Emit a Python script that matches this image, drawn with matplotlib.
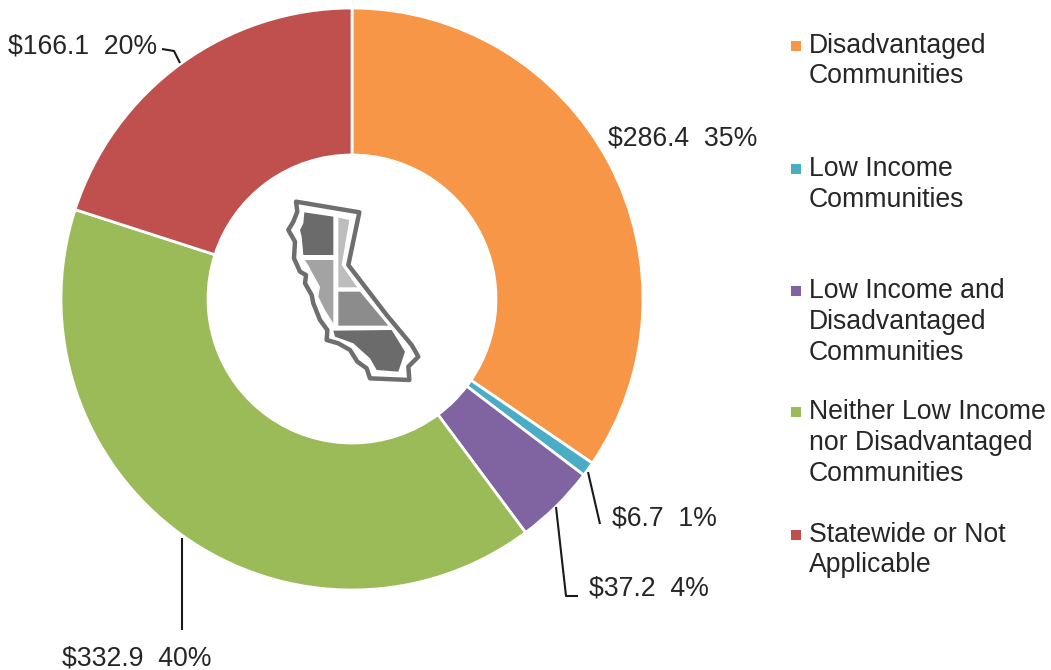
import matplotlib.pyplot as plt
from matplotlib.patches import Polygon

plt.rcParams['font.family'] = ['Liberation Sans', 'DejaVu Sans']

categories = ["Disadvantaged\nCommunities", "Low Income\nCommunities", "Low Income and\nDisadvantaged\nCommunities",
	"Neither Low Income\nnor Disadvantaged\nCommunities", "Statewide or Not\nApplicable"]
values = [286.4, 6.7, 37.2, 332.9, 166.1]
percents = [35, 1, 4, 40, 20]
colors = ['#F79646', '#4BACC6', '#8064A2', '#9BBB59', '#C0504D']

# everything below is placed in image pixels (y flipped by hand)
H = 670
label_pos = [(608, 139), (612, 519), (589, 589), (62, 658), (8, 46)]
leaders = [None, [(588, 472), (600, 524)], [(556, 507), (566, 596), (578, 596)],
	[(182, 538), (182, 630)], [(180, 63), (174, 51), (162, 49)]]
legend_y = [61, 184.5, 322, 443, 550]
text_color = '#262626'

outline = [(78, 65), (268, 97), (235, 255), (350, 405), (425, 495), (445, 530), (415, 560), (418, 600), (300, 595),
	(290, 565), (262, 545), (240, 510), (205, 490), (170, 480), (172, 450), (150, 420), (130, 370), (125, 345),
	(105, 310), (108, 285), (90, 275), (72, 235), (75, 185), (55, 150), (70, 125), (82, 95)]
regions = [
	([(103, 97), (190, 110), (190, 225), (100, 225), (95, 170), (90, 150), (100, 130)], '#6b6b6b'),
	([(205, 113), (238, 120), (215, 255), (262, 322), (205, 322)], '#bdbdbd'),
	([(105, 240), (190, 240), (190, 430), (165, 390), (145, 350), (150, 320), (125, 275), (120, 265)], '#a3a3a3'),
	([(205, 335), (270, 335), (355, 437), (205, 437)], '#8c8c8c'),
	([(190, 452), (365, 450), (405, 515), (385, 575), (320, 570), (300, 535), (250, 490), (195, 470)], '#6b6b6b'),
]


def icon_xy(points):
	return [(270 + x / 3, H - (180 + y / 3)) for x, y in points]


fig = plt.figure(figsize=(10.51, 6.70), dpi=100)
ax = fig.add_axes([0, 0, 1, 1])

ax.pie(values, colors=colors, center=(352, H - 299), radius=291, startangle=90, counterclock=False,
	wedgeprops={'width': 147, 'edgecolor': 'white', 'linewidth': 2}, frame=True)
ax.set_xlim(0, 1051)
ax.set_ylim(0, H)
ax.set_aspect('equal')
ax.axis('off')

for val, pct, (x, y), line in zip(values, percents, label_pos, leaders):
	ax.text(x, H - y, f"${val}  {pct}%", fontsize=19.2, color=text_color, va='center', ha='left')
	if line:
		ax.plot([p[0] for p in line], [H - p[1] for p in line], color='#1a1a1a', lw=1.5, solid_capstyle='butt')

for cat, col, y in zip(categories, colors, legend_y):
	n = cat.count("\n") + 1
	top = H - y
	ax.scatter([796], [top + (n - 1) * 15.5], marker='s', s=60, color=col, linewidths=0)
	ax.text(809, top, cat, fontsize=19.2, color=text_color, va='center', ha='left', linespacing=1.24)

ax.add_patch(Polygon(icon_xy(outline), closed=True, facecolor='white', edgecolor='#6e6e6e', lw=3.2, joinstyle='round'))
for pts, shade in regions:
	ax.add_patch(Polygon(icon_xy(pts), closed=True, facecolor=shade, edgecolor='none'))

fig.savefig("out.png", dpi=100)
